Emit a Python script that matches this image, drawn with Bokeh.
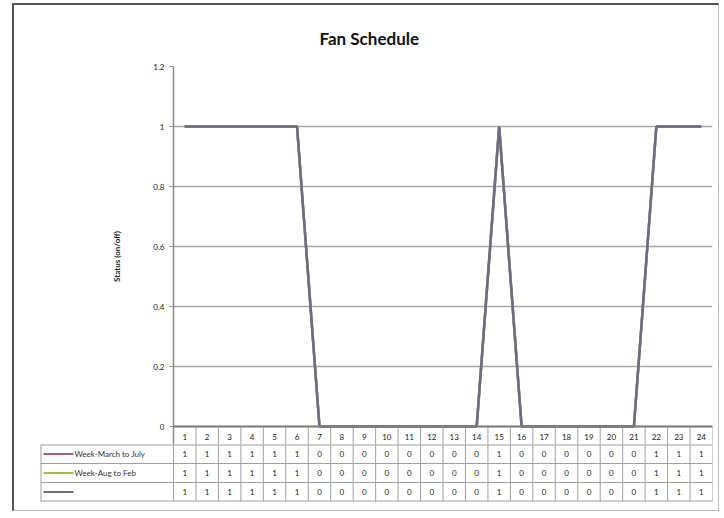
from bokeh.plotting import figure
from bokeh.models import Range1d, FixedTicker, CustomJSTickFormatter, Span
from bokeh.embed import file_html
from bokeh.resources import INLINE
from bokeh.core.properties import value

# ---- data ----
hours = list(range(1, 25))
march_july = [1, 1, 1, 1, 1, 1, 0, 0, 0, 0, 0, 0, 0, 0, 1, 0, 0, 0, 0, 0, 0, 1, 1, 1]
aug_feb = [1, 1, 1, 1, 1, 1, 0, 0, 0, 0, 0, 0, 0, 0, 1, 0, 0, 0, 0, 0, 0, 1, 1, 1]
third_series = [1, 1, 1, 1, 1, 1, 0, 0, 0, 0, 0, 0, 0, 0, 1, 0, 0, 0, 0, 0, 0, 1, 1, 1]
series_names = ["Week-March to July", "Week-Aug to Feb", ""]
series_colors = ["#B0607F", "#9BBB59", "#6F6A85"]
y_ticks = [0, 0.2, 0.4, 0.6, 0.8, 1.0, 1.2]
chart_title = "Fan Schedule"
y_label = "Status (on/off)"

FONT = "Lato"
series_values = [march_july, aug_feb, third_series]
TXT = "#222222"
GRIDC = "#A0A0A0"

# layout constants (pixels)
PX_PER_Y = 300.0
HDR_PX = 20
hdr = HDR_PX / PX_PER_Y
unit = 539 / 24.0

# ---- chart (with header row of the data table) ----
p = figure(width=707, height=441, x_range=Range1d(0.5, 24.5), y_range=Range1d(-hdr, 1.2),
           output_backend="svg", toolbar_location=None,
           min_border_left=159, min_border_right=9, min_border_top=61, min_border_bottom=0)
p.styles = {"margin-left": "12px", "margin-top": "3px",
            "border-left": "2px solid #555555", "border-top": "2px solid #555555",
            "border-right": "1px solid #BBBBBB"}
p.title.text = chart_title
p.title.align = "left"
p.title.offset = 146
p.title.text_font = FONT
p.title.text_font_size = "17px"
p.title.text_font_style = "bold"
p.title.text_color = "#111111"
p.title.standoff = 36

p.xaxis.visible = False
p.xgrid.visible = False
p.outline_line_color = None

p.yaxis.ticker = FixedTicker(ticks=y_ticks)
p.yaxis.formatter = CustomJSTickFormatter(code="return tick.toFixed(1).replace(/\\.0$/, '');")
p.yaxis.major_label_text_font = FONT
p.yaxis.major_label_text_font_size = "8px"
p.yaxis.major_label_text_color = TXT
p.yaxis.major_tick_out = 4
p.yaxis.major_tick_in = 0
p.yaxis.minor_tick_line_color = None
p.yaxis.axis_line_color = "#8C8C8C"
p.yaxis.axis_line_width = 1.5
p.yaxis.major_tick_line_color = "#8C8C8C"
p.yaxis.axis_label = y_label
p.yaxis.axis_label_text_font = FONT
p.yaxis.axis_label_text_font_size = "8px"
p.yaxis.axis_label_text_font_style = "bold"
p.yaxis.axis_label_text_color = TXT
p.yaxis.axis_label_standoff = 28
p.ygrid.ticker = FixedTicker(ticks=y_ticks)
p.ygrid.grid_line_color = "#A6A6A6"
p.ygrid.grid_line_width = 1.5

# header row separators and labels
bounds = [h - 0.5 for h in hours] + [hours[-1] + 0.5]
p.segment(x0=bounds, y0=[-hdr] * len(bounds), x1=bounds, y1=[0] * len(bounds),
          line_color=GRIDC, line_width=1)
p.segment(x0=[0.5], y0=[-hdr], x1=[24.5], y1=[-hdr], line_color=GRIDC, line_width=2)
p.text(x=hours, y=[-hdr / 2] * 24, text=[str(h) for h in hours], text_align="center",
       text_baseline="middle", text_font=value(FONT), text_font_size="8px", text_color=TXT)

p.add_layout(Span(location=0, dimension="width", line_color="#7F7F7F", line_width=2))

for vals, col in zip(series_values, series_colors):
    p.line(hours, vals, line_color=col, line_width=2.5)

# ---- data table rows ----
t_left = 0.5 - 133 / unit
t = figure(width=707, height=67, x_range=Range1d(t_left, 24.5), y_range=Range1d(0, 3),
           output_backend="svg", toolbar_location=None,
           min_border_left=26, min_border_right=9, min_border_top=0, min_border_bottom=10)
t.styles = {"margin-left": "12px",
            "border-left": "2px solid #555555", "border-right": "1px solid #BBBBBB",
            "border-bottom": "1px solid #BBBBBB"}
t.axis.visible = False
t.grid.visible = False
t.outline_line_color = None

t.segment(x0=[t_left] * 4, y0=[0, 1, 2, 3], x1=[24.5] * 4, y1=[0, 1, 2, 3],
          line_color=GRIDC, line_width=[2, 1.2, 1.2, 2])
t.segment(x0=[t_left], y0=[0], x1=[t_left], y1=[3], line_color=GRIDC, line_width=2)
t.segment(x0=bounds, y0=[0] * len(bounds), x1=bounds, y1=[3] * len(bounds),
          line_color=GRIDC, line_width=1)

px = 1 / unit
for i, vals in enumerate(series_values):
    yy = 2.5 - i
    t.text(x=hours, y=[yy] * 24, text=[str(v) for v in vals], text_align="center",
           text_baseline="middle", text_font=value(FONT), text_font_size="8px", text_color=TXT)
    t.segment(x0=[t_left + 3 * px], y0=[yy], x1=[t_left + 33 * px], y1=[yy],
              line_color=series_colors[i], line_width=2)
    if series_names[i]:
        t.text(x=[t_left + 34 * px], y=[yy], text=[series_names[i]], text_align="left",
               text_baseline="middle", text_font=value(FONT), text_font_size="8px",
               text_color="#333333")

open("out.html", "w").write(file_html([p, t], INLINE))
